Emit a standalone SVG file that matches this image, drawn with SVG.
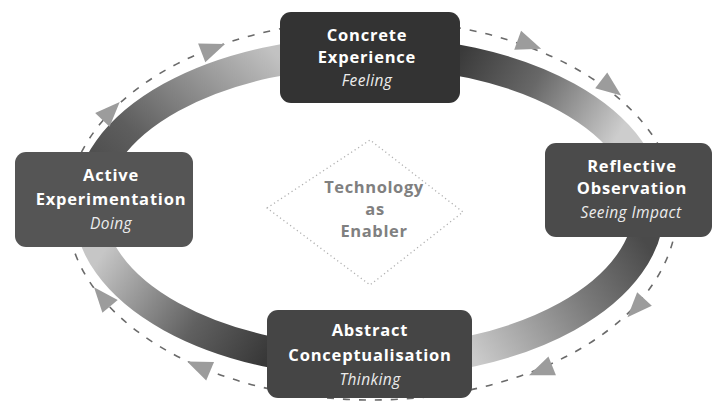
<svg xmlns="http://www.w3.org/2000/svg" width="714" height="401" viewBox="0 0 714 401">
  <style>
    .box { stroke: none; }
    .title { font-family: "Open Sans", "Liberation Sans", sans-serif; font-weight: 700; font-size: 16.5px; fill: #ffffff; text-anchor: middle; letter-spacing: 0.8px; }
    .sub { font-family: "Open Sans", "Liberation Sans", sans-serif; font-style: italic; font-size: 15.5px; fill: #ececec; text-anchor: middle; letter-spacing: 0.4px; }
    .hub { font-family: "Open Sans", "Liberation Sans", sans-serif; font-weight: 700; font-size: 16.5px; fill: #808080; text-anchor: middle; letter-spacing: 0.6px; }
    .band { fill: none; stroke-width: 31; }
    .track { fill: none; stroke: #6a6a6a; stroke-width: 1.6; stroke-dasharray: 7 9; }
    .head { fill: #9c9c9c; }
  </style>
  <defs>
    <!-- each quarter of the ring fades from dark (start) to light (end), clockwise -->
    <linearGradient id="gLT" gradientUnits="userSpaceOnUse" x1="110" y1="250" x2="285" y2="62">
      <stop offset="0" stop-color="#3c3c3c"/>
      <stop offset="0.4" stop-color="#5e5e5e"/>
      <stop offset="1" stop-color="#c2c2c2"/>
    </linearGradient>
    <linearGradient id="gTR" gradientUnits="userSpaceOnUse" x1="455" y1="62" x2="610" y2="150">
      <stop offset="0" stop-color="#3a3a3a"/>
      <stop offset="0.45" stop-color="#686868"/>
      <stop offset="1" stop-color="#cdcdcd"/>
    </linearGradient>
    <linearGradient id="gRB" gradientUnits="userSpaceOnUse" x1="640" y1="235" x2="470" y2="352">
      <stop offset="0" stop-color="#4a4a4a"/>
      <stop offset="0.4" stop-color="#7a7a7a"/>
      <stop offset="1" stop-color="#cbcbcb"/>
    </linearGradient>
    <linearGradient id="gBL" gradientUnits="userSpaceOnUse" x1="270" y1="352" x2="108" y2="245">
      <stop offset="0" stop-color="#383838"/>
      <stop offset="0.4" stop-color="#606060"/>
      <stop offset="1" stop-color="#c6c6c6"/>
    </linearGradient>
    <polygon id="arrowHead" points="14,0 -11,-10 -11,10"/>
  </defs>

  <!-- connectors: gradient ring and dashed outer track with arrowheads -->
  <g id="connectors">
    <path class="band" stroke="url(#gLT)" d="M 89 207 A 280 155 0 0 1 369 52"/>
    <path class="band" stroke="url(#gTR)" d="M 369 52 A 280 155 0 0 1 649 207"/>
    <path class="band" stroke="url(#gRB)" d="M 649 207 A 280 155 0 0 1 369 362"/>
    <path class="band" stroke="url(#gBL)" d="M 369 362 A 280 155 0 0 1 89 207"/>

    <ellipse class="track" cx="372" cy="210" rx="305" ry="190"/>

    <use href="#arrowHead" class="head" transform="translate(110,112) rotate(-46)"/>
    <use href="#arrowHead" class="head" transform="translate(212,49) rotate(-21)"/>
    <use href="#arrowHead" class="head" transform="translate(528,44) rotate(20)"/>
    <use href="#arrowHead" class="head" transform="translate(610,87) rotate(37)"/>
    <use href="#arrowHead" class="head" transform="translate(637,307) rotate(133)"/>
    <use href="#arrowHead" class="head" transform="translate(542,370) rotate(158)"/>
    <use href="#arrowHead" class="head" transform="translate(200,367) rotate(-157)"/>
    <use href="#arrowHead" class="head" transform="translate(103,298) rotate(-130)"/>
  </g>

  <!-- centre hub -->
  <g id="hub">
    <polygon points="267,208 370,140 463,212 370,285" fill="none" stroke="#b0b0b0" stroke-width="1.3" stroke-dasharray="1.2 3" stroke-linejoin="round"/>
    <text class="hub" x="374" y="193">Technology</text>
    <text class="hub" x="375" y="215">as</text>
    <text class="hub" x="374" y="237">Enabler</text>
  </g>

  <g id="concrete-experience">
    <rect class="box" x="280" y="12" width="180" height="91" rx="11" fill="#333333"/>
    <text class="title" x="367" y="41">Concrete</text>
    <text class="title" x="367" y="63">Experience</text>
    <text class="sub" x="367" y="86">Feeling</text>
  </g>

  <g id="reflective-observation">
    <rect class="box" x="545" y="143" width="167" height="94" rx="11" fill="#4b4b4b"/>
    <text class="title" x="632" y="172">Reflective</text>
    <text class="title" x="632" y="194">Observation</text>
    <text class="sub" x="631" y="218">Seeing Impact</text>
  </g>

  <g id="abstract-conceptualisation">
    <rect class="box" x="267" y="310" width="205" height="88" rx="11" fill="#454545"/>
    <text class="title" x="370" y="336">Abstract</text>
    <text class="title" x="370" y="361">Conceptualisation</text>
    <text class="sub" x="370" y="385">Thinking</text>
  </g>

  <g id="active-experimentation">
    <rect class="box" x="15" y="152" width="178" height="95" rx="11" fill="#555555"/>
    <text class="title" x="111" y="181">Active</text>
    <text class="title" x="111" y="205">Experimentation</text>
    <text class="sub" x="111" y="229">Doing</text>
  </g>
</svg>
